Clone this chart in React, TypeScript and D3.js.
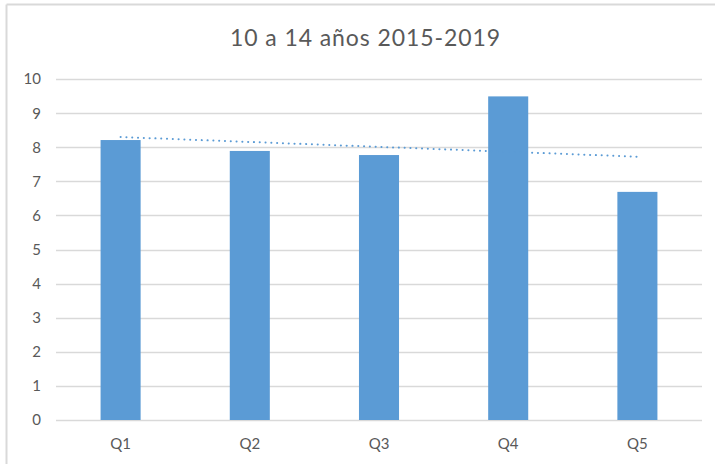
import React, { useRef, useEffect } from 'react';
import * as d3 from 'd3';

const categories = ['Q1', 'Q2', 'Q3', 'Q4', 'Q5'];
const values = [8.21, 7.89, 7.77, 9.49, 6.69];
const yTicks = [0, 1, 2, 3, 4, 5, 6, 7, 8, 9, 10];
const title = '10 a 14 años 2015-2019';

const W = 715;
const H = 464;
const FONT = 'Lato, "Open Sans", sans-serif';

const App: React.FC = () => {
  const ref = useRef<SVGSVGElement | null>(null);

  useEffect(() => {
    if (!ref.current) return;
    const svg = d3.select(ref.current);
    svg.selectAll('*').remove();

    svg.append('rect').attr('width', W).attr('height', H).attr('fill', '#fff');

    // chart frame (only top and left edges visible in the crop)
    svg.append('line')
      .attr('x1', 6.5).attr('x2', W).attr('y1', 4.5).attr('y2', 4.5)
      .attr('stroke', '#d9d9d9').attr('stroke-width', 2);
    svg.append('line')
      .attr('x1', 6.5).attr('x2', 6.5).attr('y1', 4.5).attr('y2', H)
      .attr('stroke', '#d9d9d9').attr('stroke-width', 2);

    const left = 56, right = 702, top = 79, bottom = 420;

    const x = d3.scaleBand<string>()
      .domain(categories)
      .range([left, right])
      .paddingInner(0.69)
      .paddingOuter(0.345);

    const y = d3.scaleLinear().domain([0, 10]).range([bottom, top]);

    // gridlines
    svg.append('g')
      .selectAll('line')
      .data(yTicks)
      .enter().append('line')
      .attr('x1', left).attr('x2', right)
      .attr('y1', d => Math.round(y(d)) + 0.5)
      .attr('y2', d => Math.round(y(d)) + 0.5)
      .attr('stroke', '#d9d9d9')
      .attr('stroke-width', 1.3);

    // y tick labels
    svg.append('g')
      .selectAll('text')
      .data(yTicks)
      .enter().append('text')
      .attr('x', 41)
      .attr('y', d => y(d))
      .attr('dy', '0.36em')
      .attr('text-anchor', 'end')
      .attr('font-family', FONT)
      .attr('font-size', 15)
      .attr('fill', '#595959')
      .text(d => d);

    // bars
    const cx = (c: string) => (x(c) || 0) + x.bandwidth() / 2;
    svg.append('g')
      .selectAll('rect')
      .data(values)
      .enter().append('rect')
      .attr('x', (_, i) => x(categories[i]) || 0)
      .attr('y', d => y(d))
      .attr('width', x.bandwidth())
      .attr('height', d => bottom - y(d))
      .attr('fill', '#5b9bd5');

    // linear trendline (least squares over category index)
    const n = values.length;
    const xs = values.map((_, i) => i + 1);
    const mx = d3.mean(xs) || 0;
    const my = d3.mean(values) || 0;
    const slope = d3.sum(xs, (xi, i) => (xi - mx) * (values[i] - my)) /
      d3.sum(xs, xi => (xi - mx) * (xi - mx));
    const icpt = my - slope * mx;
    const trend = categories.map((c, i) => ({ c, v: icpt + slope * (i + 1) }));
    svg.append('path')
      .datum([trend[0], trend[n - 1]])
      .attr('d', d3.line<{ c: string; v: number }>().x(d => cx(d.c)).y(d => y(d.v)))
      .attr('fill', 'none')
      .attr('stroke', '#5b9bd5')
      .attr('stroke-width', 2)
      .attr('stroke-linecap', 'round')
      .attr('stroke-dasharray', '0.1 5.7');

    // x labels
    svg.append('g')
      .selectAll('text')
      .data(categories)
      .enter().append('text')
      .attr('x', d => cx(d))
      .attr('y', 449)
      .attr('text-anchor', 'middle')
      .attr('font-family', FONT)
      .attr('font-size', 15)
      .attr('fill', '#595959')
      .text(d => d);

    // title
    svg.append('text')
      .attr('x', 365)
      .attr('y', 46)
      .attr('text-anchor', 'middle')
      .attr('font-family', FONT)
      .attr('font-size', 23)
      .attr('textLength', 270)
      .attr('lengthAdjust', 'spacing')
      .attr('fill', '#595959')
      .text(title);
  }, []);

  return (
    <svg
      ref={ref}
      width={W}
      height={H}
      style={{ position: 'absolute', left: 0, top: 0, display: 'block' }}
    />
  );
};

export default App;
